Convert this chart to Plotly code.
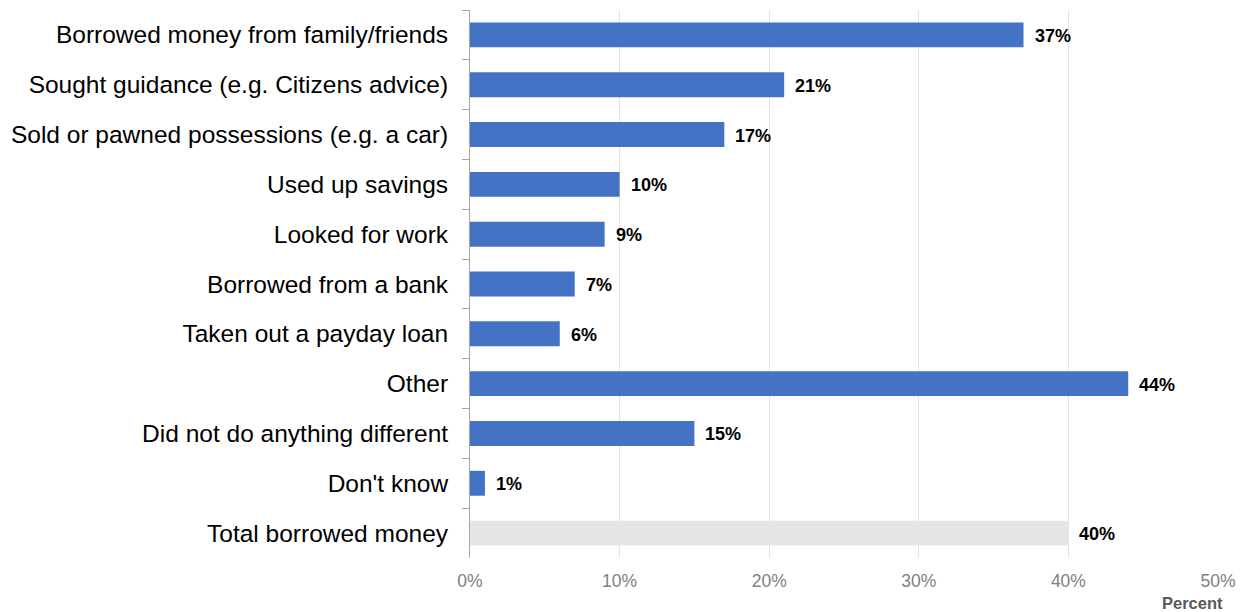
import plotly.graph_objects as go

categories = [
    "Borrowed money from family/friends",
    "Sought guidance (e.g. Citizens advice)",
    "Sold or pawned possessions (e.g. a car)",
    "Used up savings",
    "Looked for work",
    "Borrowed from a bank",
    "Taken out a payday loan",
    "Other",
    "Did not do anything different",
    "Don't know",
    "Total borrowed money",
]
values = [37, 21, 17, 10, 9, 7, 6, 44, 15, 1, 40]
bar_colors = ["#4472C4"] * 10 + ["#E6E6E6"]

x_ticks = [0, 10, 20, 30, 40, 50]
x_tick_labels = ["0%", "10%", "20%", "30%", "40%", "50%"]

font_family = "Liberation Sans, Arial, sans-serif"

fig = go.Figure()
fig.add_trace(go.Bar(
    y=categories,
    x=values,
    orientation="h",
    marker=dict(color=bar_colors, line=dict(width=0)),
    hoverinfo="skip",
))

for cat, v in zip(categories, values):
    fig.add_annotation(
        x=v, y=cat, xref="x", yref="y",
        text=f"<b>{v}%</b>", showarrow=False,
        xanchor="left", yanchor="middle", xshift=9, yshift=-1,
        font=dict(family=font_family, size=18, color="#000000"),
    )

fig.add_annotation(
    x=1.0, y=0, xref="paper", yref="paper",
    text="<b>Percent</b>", showarrow=False,
    xanchor="right", yanchor="top", xshift=7, yshift=-34,
    font=dict(family=font_family, size=16.5, color="#595959"),
)

fig.update_layout(
    width=1246, height=612,
    margin=dict(l=470, r=28, t=10, b=54),
    paper_bgcolor="white", plot_bgcolor="white",
    bargap=0.5,
    showlegend=False,
    font=dict(family=font_family),
    xaxis=dict(
        range=[0, 50],
        tickvals=x_ticks, ticktext=x_tick_labels,
        showgrid=True, gridcolor="#E3E3E3", gridwidth=1,
        zeroline=False, showline=False,
        tickfont=dict(family=font_family, size=17.5, color="#808080"),
        ticks="", ticklabelstandoff=10,
    ),
    yaxis=dict(
        autorange="reversed",
        showline=True, linecolor="#A6A6A6", linewidth=1,
        ticks="outside", tickson="boundaries", ticklen=7,
        tickcolor="#A6A6A6", tickwidth=1,
        showgrid=False,
        tickfont=dict(family=font_family, size=24.5, color="#000000"),
        ticklabelstandoff=16,
    ),
)

fig.write_html("out.html")
